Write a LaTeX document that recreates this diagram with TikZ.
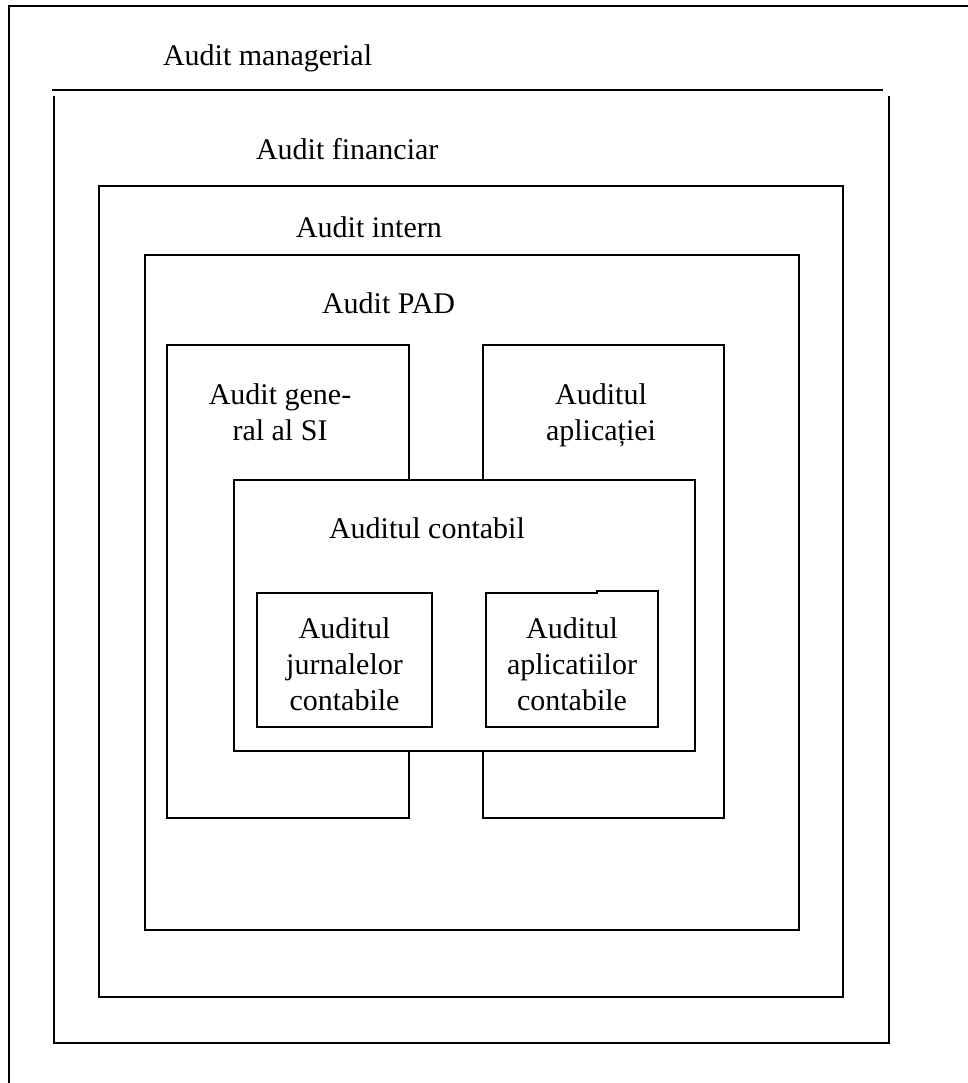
\documentclass[tikz,border=0pt]{standalone}
\usepackage{fontspec}
\setmainfont{Liberation Serif}
\begin{document}
\begin{tikzpicture}[x=1pt,y=-1pt,
  line/.style={line width=1.8pt, black},
  box/.style={draw, line width=1.8pt, fill=white, inner sep=0pt, outer sep=0pt},
  lbl/.style={inner sep=0pt, outer sep=0pt, font=\fontsize{30}{35}\selectfont},
  mlbl/.style={inner sep=0pt, outer sep=0pt, align=center, font=\fontsize{30}{36}\selectfont}]
\useasboundingbox (0,0) rectangle (968,1083);
% outermost frame (only top and left edges)
\coordinate (o1) at (9,1083);
\coordinate (o2) at (9,6);
\coordinate (o3) at (968,6);
\draw[line] (o1) -- (o2) -- (o3);
\node[lbl, anchor=base west] (tman) at (163,66) {Audit managerial};
% managerial box
\coordinate (m1) at (54,96);
\coordinate (m2) at (54,1043);
\coordinate (m3) at (889,1043);
\coordinate (m4) at (889,96);
\coordinate (mt1) at (52,90);
\coordinate (mt2) at (883,90);
\draw[line] (m1) -- (m2) -- (m3) -- (m4);
\draw[line] (mt1) -- (mt2);
\node[lbl, anchor=base west] (tfin) at (256,160) {Audit financiar};
% financiar box
\node[box, minimum width=744pt, minimum height=811pt] (bfin) at (471,591.5) {};
\node[lbl, anchor=base west] (tint) at (296,237) {Audit intern};
% intern box
\node[box, minimum width=654pt, minimum height=675pt] (bint) at (472,592.5) {};
\node[lbl, anchor=base west] (tpad) at (322,313) {Audit PAD};
% general SI and application boxes
\node[box, minimum width=242pt, minimum height=473pt] (bgen) at (288,581.5) {};
\node[box, minimum width=241pt, minimum height=473pt] (bapl) at (603.5,581.5) {};
\node[mlbl, anchor=base] (tgen) at (280,440) {Audit gene-\\ral al SI};
\node[mlbl, anchor=base] (tapl) at (601,440) {Auditul\\aplicației};
% contabil box
\node[box, minimum width=461pt, minimum height=271pt] (bcon) at (464.5,615.5) {};
\node[lbl, anchor=base west] (tcon) at (329,538) {Auditul contabil};
% inner boxes
\node[box, minimum width=175pt, minimum height=134pt] (bjur) at (344.5,660) {};
\coordinate (a1) at (486,593);
\coordinate (a2) at (597,593);
\coordinate (a3) at (597,591);
\coordinate (a4) at (658,591);
\coordinate (a5) at (658,727);
\coordinate (a6) at (486,727);
\draw[line, fill=white] (a1) -- (a2) -- (a3) -- (a4) -- (a5) -- (a6) -- cycle;
\node[mlbl, anchor=base] (tjur) at (344.5,710) {Auditul\\jurnalelor\\contabile};
\node[mlbl, anchor=base] (tapc) at (572,710) {Auditul\\aplicatiilor\\contabile};
\end{tikzpicture}
\end{document}
